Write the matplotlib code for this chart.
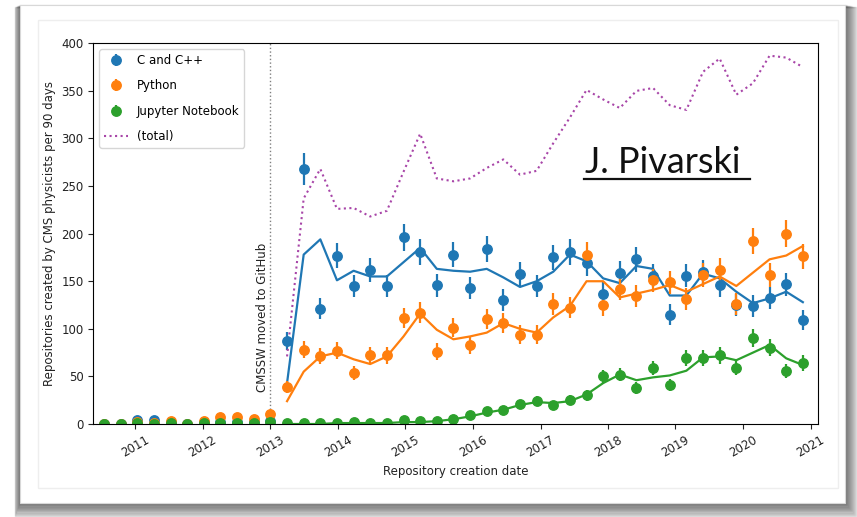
import matplotlib.pyplot as plt
import matplotlib.dates as mdates
import numpy as np
import pandas as pd
from matplotlib.lines import Line2D
from matplotlib.patches import Rectangle

# 90-day bins of repository creation date
bin_start = pd.date_range('2010-07-16', periods=43, freq='90D')

# repositories created per bin, by language
c_cpp = [0, 0, 4, 4, 1, 0, 1, 2, 2, 2, 3,
         87, 268, 121, 177, 145, 162, 145, 196, 181, 146,
         178, 143, 184, 130, 158, 145, 175, 181, 169, 137,
         159, 173, 156, 115, 156, 160, 146, 125, 124, 132,
         147, 109]
python = [0, 0, 2, 1, 3, 0, 3, 7, 7, 5, 10,
          39, 78, 71, 77, 54, 72, 72, 111, 117, 76,
          101, 83, 110, 106, 94, 94, 126, 122, 178, 125,
          142, 134, 151, 149, 131, 157, 162, 126, 192, 157,
          200, 176]
jupyter = [0, 0, 1, 0, 1, 0, 1, 1, 1, 1, 2,
           1, 1, 1, 1, 2, 1, 1, 4, 3, 3,
           5, 9, 14, 15, 21, 24, 20, 25, 30, 50,
           52, 38, 59, 41, 69, 69, 72, 59, 90, 80,
           56, 64]

# smoothed trends, only after CMSSW moved (from bin 11 on)
trend_from = 11
c_cpp_trend = [43, 178, 194, 151, 161, 155, 155, 170, 185, 163,
               161, 160, 163, 154, 144, 150, 160, 178, 171, 153,
               148, 166, 163, 135, 135, 158, 153, 139, 127, 132,
               139, 128]
python_trend = [24, 55, 71, 75, 68, 63, 71, 92, 116, 99,
                89, 92, 96, 106, 100, 96, 112, 124, 150, 150,
                133, 137, 141, 146, 139, 147, 155, 145, 159, 173,
                177, 187]
jupyter_trend = [0, 0, 0, 1, 1, 1, 1, 2, 2, 3,
                 5, 8, 12, 15, 20, 23, 22, 24, 31, 43,
                 52, 46, 49, 51, 56, 70, 71, 67, 75, 83,
                 69, 62]
total_trend = [71, 237, 268, 226, 227, 218, 224, 265, 305, 258,
               255, 258, 269, 278, 262, 266, 295, 322, 351, 341,
               332, 350, 353, 335, 330, 370, 384, 346, 358, 387,
               385, 375]

moved_date = pd.Timestamp('2013-01-01')

W, H = 857, 517


def frac_box(x0, y0, x1, y1):
    # pixel box (origin top-left) -> figure fraction rectangle args
    return (x0 / W, 1 - y1 / H), (x1 - x0) / W, (y1 - y0) / H


fig = plt.figure(figsize=(W / 100, H / 100), dpi=100)
fig.patch.set_facecolor('white')

# slide card with a soft drop shadow
for k in range(1, 13):
    xy, w, h = frac_box(20 - 0.45 * k, 5 + 0.2 * k, 845 + 1.0 * k, 503 + 1.2 * k)
    fig.patches.append(Rectangle(xy, w, h, transform=fig.transFigure,
                                 color='black', alpha=0.05, zorder=0))
xy, w, h = frac_box(20, 5, 845, 503)
fig.patches.append(Rectangle(xy, w, h, transform=fig.transFigure,
                             facecolor='white', edgecolor='#d8d8d8', lw=0.8, zorder=1))
xy, w, h = frac_box(38, 20, 838, 488)
fig.patches.append(Rectangle(xy, w, h, transform=fig.transFigure,
                             facecolor='white', edgecolor='#eeeeee', lw=1.0, zorder=2))

ax = fig.add_axes([93.3 / W, 1 - 424 / H, (818 - 93.3) / W, (424 - 43.3) / H])
ax.set_zorder(5)

series = [
    (c_cpp, c_cpp_trend, 'C0', 'C and C++'),
    (python, python_trend, 'C1', 'Python'),
    (jupyter, jupyter_trend, 'C2', 'Jupyter Notebook'),
]
handles = []
for counts, trend, color, name in series:
    counts = np.array(counts, dtype=float)
    eb = ax.errorbar(bin_start, counts, yerr=np.sqrt(counts), fmt='o', color=color,
                     ms=6.8, elinewidth=1.6, label=name)
    ax.plot(bin_start[trend_from:], trend, color=color, lw=1.6)
    handles.append(eb)

total_line, = ax.plot(bin_start[trend_from:], total_trend, ':', color='#a845a8',
                      lw=1.5, label='(total)')
handles.append(total_line)

ax.axvline(moved_date, color='gray', ls=':', lw=1)
ax.text(moved_date - pd.Timedelta(days=6), 34, 'CMSSW moved to GitHub',
        rotation=90, ha='right', va='bottom', fontsize=8.5, color='#222222')

ax.set_ylim(0, 400)
ax.set_xlim(pd.Timestamp('2010-05-19'), pd.Timestamp('2021-02-10'))
ax.xaxis.set_major_locator(mdates.YearLocator())
ax.xaxis.set_major_formatter(mdates.DateFormatter('%Y'))
ax.tick_params(labelsize=8.5, colors='#222222')
plt.setp(ax.get_xticklabels(), rotation=30, ha='center')

ax.set_xlabel('Repository creation date', fontsize=8.5, color='#222222')
ax.set_ylabel('Repositories created by CMS physicists per 90 days', fontsize=8.5,
              color='#222222')

ax.legend(handles, [h.get_label() for h in handles], loc='upper left',
          fontsize=8.5, labelspacing=1.05)

# author credit, underlined
fig.text(585 / W, 1 - 173 / H, 'J. Pivarski', fontsize=26, family='Lato',
         va='baseline', ha='left', color='#111111', zorder=10)
fig.lines.append(Line2D([584 / W, 750 / W], [1 - 178.5 / H, 1 - 178.5 / H],
                        transform=fig.transFigure, color='#111111', lw=1.6, zorder=10))

fig.savefig('out.png', dpi=100)
